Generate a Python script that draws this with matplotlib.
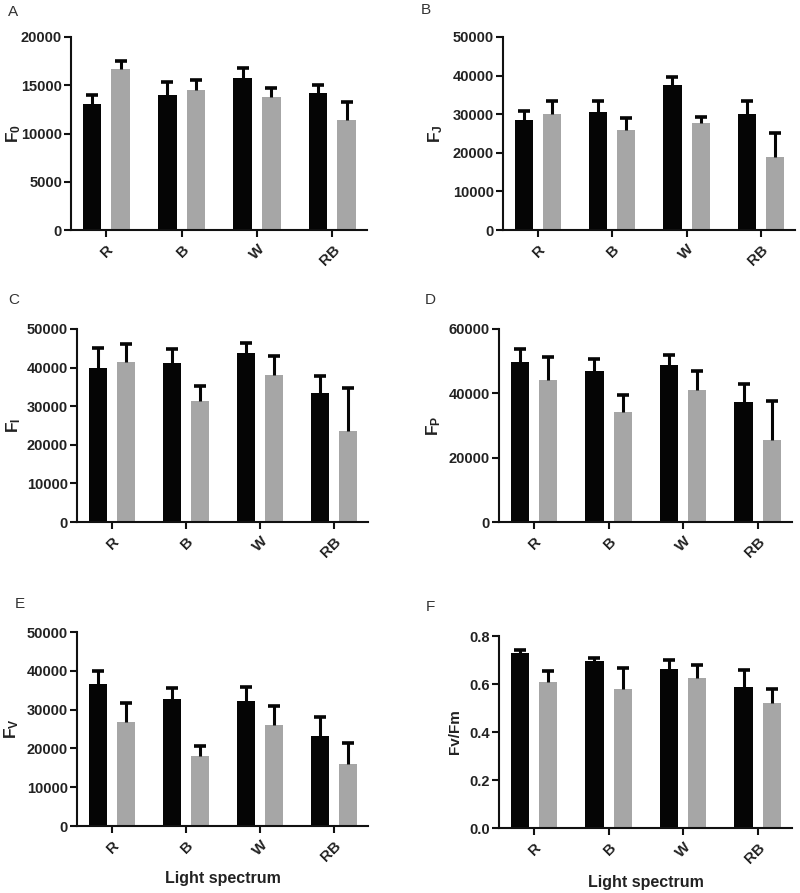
import matplotlib
matplotlib.use("Agg")
import matplotlib.pyplot as plt
import numpy as np

plt.rcParams['font.family'] = ['Liberation Sans', 'DejaVu Sans']
plt.rcParams['mathtext.fontset'] = 'custom'
plt.rcParams['mathtext.rm'] = 'Liberation Sans:bold'
plt.rcParams['mathtext.bf'] = 'Liberation Sans:bold'
plt.rcParams['mathtext.it'] = 'Liberation Sans:bold'

categories = ['R', 'B', 'W', 'RB']

# Panel A: F0
f0_black = [13100, 13970, 15800, 14200]
f0_black_err = [900, 1380, 1000, 800]
f0_gray = [16650, 14480, 13830, 11380]
f0_gray_err = [900, 1020, 870, 1860]

# Panel B: FJ
fj_black = [28400, 30600, 37600, 30000]
fj_black_err = [2400, 2900, 2100, 3500]
fj_gray = [30100, 25900, 27800, 19000]
fj_gray_err = [3400, 3000, 1600, 6200]

# Panel C: FI
fi_black = [40000, 41200, 43900, 33500]
fi_black_err = [5200, 3600, 2500, 4400]
fi_gray = [41550, 31400, 38100, 23600]
fi_gray_err = [4650, 3800, 4800, 11100]

# Panel D: FP
fp_black = [49800, 46800, 48800, 37200]
fp_black_err = [4000, 4000, 3200, 5600]
fp_gray = [44000, 34100, 41000, 25500]
fp_gray_err = [7200, 5300, 6000, 12000]

# Panel E: FV
fv_black = [36700, 32800, 32300, 23300]
fv_black_err = [3200, 2700, 3600, 4900]
fv_gray = [26900, 18000, 26000, 15900]
fv_gray_err = [4700, 2700, 4800, 5500]

# Panel F: Fv/Fm
fvfm_black = [0.731, 0.697, 0.662, 0.589]
fvfm_black_err = [0.011, 0.011, 0.039, 0.069]
fvfm_gray = [0.610, 0.579, 0.623, 0.520]
fvfm_gray_err = [0.045, 0.087, 0.058, 0.059]

panels = [
    ('A', r'$\mathbf{F_0}$', f0_black, f0_black_err, f0_gray, f0_gray_err, 20000, [0, 5000, 10000, 15000, 20000], None),
    ('B', r'$\mathbf{F_J}$', fj_black, fj_black_err, fj_gray, fj_gray_err, 50000, [0, 10000, 20000, 30000, 40000, 50000], None),
    ('C', r'$\mathbf{F_I}$', fi_black, fi_black_err, fi_gray, fi_gray_err, 50000, [0, 10000, 20000, 30000, 40000, 50000], None),
    ('D', r'$\mathbf{F_P}$', fp_black, fp_black_err, fp_gray, fp_gray_err, 60000, [0, 20000, 40000, 60000], None),
    ('E', r'$\mathbf{F_V}$', fv_black, fv_black_err, fv_gray, fv_gray_err, 50000, [0, 10000, 20000, 30000, 40000, 50000], 'Light spectrum'),
    ('F', 'Fv/Fm', fvfm_black, fvfm_black_err, fvfm_gray, fvfm_gray_err, 0.8, [0.0, 0.2, 0.4, 0.6, 0.8], 'Light spectrum'),
]

W, H = 800, 893
fig = plt.figure(figsize=(W / 100, H / 100), dpi=100)

# axes boxes in pixels: left, right, top, bottom
boxes = [
    (71, 367, 37, 230),
    (503, 795, 37, 230),
    (77, 368, 329, 522),
    (499, 792, 329, 522),
    (77, 368, 632, 826),
    (499, 792, 636, 828),
]
letter_pos = [(8, 12), (421, 10), (8, 300), (425, 300), (15, 604), (426, 607)]
ylabel_x = [14, 436, 14, 434, 12, 455]
ylabel_size = [12.5, 12.5, 12.5, 12.5, 12.5, 11]
xlabel_y = [None, None, None, None, 878, 882]

x = np.arange(len(categories))
bw = 0.245
off = 0.19
ecol = '#050505'

for i, ((letter, ylab, bv, be, gv, ge, ymax, yt, xlab), (l, r, t, b), (lx, ly)) in enumerate(zip(panels, boxes, letter_pos)):
    ax = fig.add_axes([l / W, 1 - b / H, (r - l) / W, (b - t) / H])
    ax.bar(x - off, bv, bw, color='#050505', zorder=2)
    ax.bar(x + off, gv, bw, color='#a6a6a6', zorder=2)
    for pos, vals, errs in ((x - off, bv, be), (x + off, gv, ge)):
        vals = np.asarray(vals)
        errs = np.asarray(errs)
        ax.vlines(pos, vals, vals + errs, colors=ecol, linewidth=2.2, zorder=3)
        ax.plot(pos, vals + errs, linestyle='none', marker='_', markersize=9,
                markeredgewidth=2.6, color=ecol, zorder=3)
    ax.set_xlim(-0.47, 3.46)
    ax.set_ylim(0, ymax)
    ax.set_yticks(yt)
    if ymax < 1:
        ax.set_yticklabels([f'{v:.1f}' for v in yt])
    else:
        ax.set_yticklabels([f'{int(v)}' for v in yt])
    ax.set_xticks(x)
    ax.set_xticklabels(categories, rotation=45, ha='right', va='top', rotation_mode='anchor')
    for s in ['top', 'right']:
        ax.spines[s].set_visible(False)
    for s in ['left', 'bottom']:
        ax.spines[s].set_linewidth(1.5)
        ax.spines[s].set_color('#111111')
    ax.tick_params(axis='y', direction='out', length=5, width=1.5, color='#111111',
                   labelsize=10.5, labelcolor='#222222', pad=1.5)
    ax.tick_params(axis='x', direction='out', length=5, width=1.5, color='#111111',
                   labelsize=11, labelcolor='#222222', pad=4)
    for lab in ax.get_yticklabels() + ax.get_xticklabels():
        lab.set_fontweight('bold')
    ax.set_ylabel(ylab, fontsize=ylabel_size[i], fontweight='bold', color='#222222')
    ax.yaxis.label.set_va('center')
    ax.yaxis.set_label_coords((ylabel_x[i] - l) / (r - l), 0.5)
    if xlab:
        ax.set_xlabel(xlab, fontsize=11.5, fontweight='bold', color='#222222')
        ax.xaxis.label.set_va('center')
        ax.xaxis.set_label_coords(0.5, -(xlabel_y[i] - b) / (b - t))
    fig.text(lx / W, 1 - ly / H, letter, fontsize=11, color='#333333', ha='left', va='center')

fig.savefig('out.png', dpi=100)
